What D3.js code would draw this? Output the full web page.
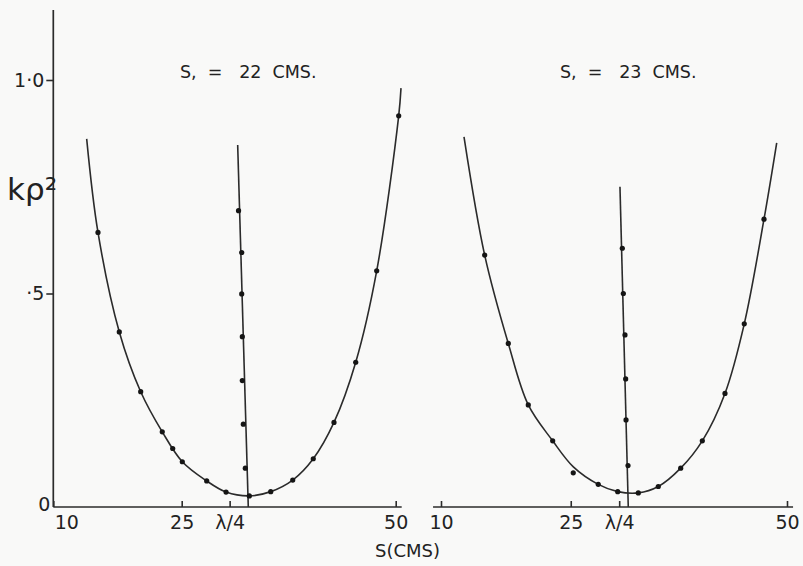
<!DOCTYPE html>
<html>
<head>
<meta charset="utf-8">
<script src="https://cdn.jsdelivr.net/npm/d3@7"></script>
<style>
  html, body { margin: 0; padding: 0; background: #f9f9f8; }
  svg { display: block; }
  text { font-family: "DejaVu Sans", sans-serif; fill: #222; }
</style>
</head>
<body>
<svg id="chart" width="803" height="566"></svg>
<script>
// ---------- DATA ----------
const xTicks = [10, 25, 30.6, 50];
const xTickLabels = ["10", "25", "λ/4", "50"];
const yTicks = [0, 0.5, 1.0];
const yTickLabels = ["0", "·5", "1·0"];

const titleLeft = "S,  =   22  CMS.";
const titleRight = "S,  =   23  CMS.";
const xLabel = "S(CMS)";
const yLabel = "kρ²";

// Left panel (S1 = 22 cms): measured points on the parabola
const leftS = [15.22, 17.71, 20.21, 22.73, 23.95, 25.07, 27.92, 30.18, 32.90, 35.40, 37.97, 40.37, 42.79, 45.33, 47.78, 50.35];
const leftV = [0.643, 0.410, 0.270, 0.176, 0.137, 0.106, 0.061, 0.035, 0.026, 0.036, 0.063, 0.113, 0.198, 0.339, 0.553, 0.916];
// Left panel drawn curve (knots along the hand-drawn curve)
const leftCurveS = [13.90, 15.22, 17.71, 20.21, 22.73, 25.07, 27.92, 30.18, 32.90, 35.40, 37.97, 40.37, 42.79, 45.33, 47.78, 50.35, 50.62];
const leftCurveV = [0.862, 0.643, 0.410, 0.270, 0.176, 0.106, 0.061, 0.035, 0.026, 0.036, 0.063, 0.113, 0.198, 0.339, 0.553, 0.916, 0.981];
// Left panel near-vertical series
const leftVertS = [31.64, 32.01, 32.01, 32.08, 32.08, 32.20, 32.43];
const leftVertV = [0.694, 0.596, 0.499, 0.399, 0.296, 0.194, 0.091];
const leftVertLineS = [31.54, 32.78];
const leftVertLineV = [0.848, 0.0];

// Right panel (S1 = 23 cms)
const rightS = [15.05, 17.78, 20.09, 22.91, 25.29, 28.18, 30.43, 32.81, 35.12, 37.71, 40.21, 42.83, 45.06, 47.34];
const rightV = [0.590, 0.383, 0.239, 0.155, 0.080, 0.053, 0.036, 0.033, 0.048, 0.091, 0.155, 0.266, 0.429, 0.674];
const rightCurveS = [12.66, 15.05, 17.78, 20.09, 22.91, 25.30, 28.18, 30.43, 32.81, 35.12, 37.71, 40.21, 42.83, 45.06, 47.34, 48.81];
const rightCurveV = [0.867, 0.590, 0.383, 0.239, 0.155, 0.094, 0.053, 0.036, 0.033, 0.048, 0.091, 0.155, 0.266, 0.429, 0.674, 0.853];
const rightVertS = [30.96, 31.08, 31.27, 31.35, 31.39, 31.62];
const rightVertV = [0.606, 0.500, 0.403, 0.300, 0.204, 0.097];
const rightVertLineS = [30.69, 31.65];
const rightVertLineV = [0.750, 0.0];

// axis extents (in data units)
const leftAxisS = [10, 50.7];
const rightAxisS = [9.08, 50.7];
const yAxisTop = 1.164;

// ---------- DRAWING ----------
const svg = d3.select("#chart");
const INK = "#2b2b2b";

svg.append("rect").attr("width", 803).attr("height", 566).attr("fill", "#f9f9f8");

const y = d3.scaleLinear().domain([0, 1]).range([507, 80]);
const xL = d3.scaleLinear().domain([10, 50]).range([53.3, 395.7]);
const xR = d3.scaleLinear().domain([10, 50]).range([441, 787]);

const zip = (a, b) => a.map((v, i) => [v, b[i]]);

function panel(x, axisS, curveS, curveV, ptsS, ptsV, vLineS, vLineV, vPtsS, vPtsV, isLeft) {
  const g = svg.append("g");
  // x axis line
  g.append("line")
    .attr("x1", x(axisS[0])).attr("x2", x(axisS[1]))
    .attr("y1", y(0)).attr("y2", y(0))
    .attr("stroke", INK).attr("stroke-width", 1.7);
  // x axis ticks and labels
  const ax = g.append("g").attr("transform", `translate(0,${y(0)})`)
    .call(d3.axisBottom(x).tickValues(xTicks).tickSize(-6).tickPadding(9)
      .tickFormat((d, i) => xTickLabels[i]));
  ax.select(".domain").remove();
  ax.selectAll(".tick line").attr("stroke", INK).attr("stroke-width", 1.6);
  ax.selectAll(".tick text").attr("font-size", 19).attr("fill", "#222")
    .attr("font-family", "DejaVu Sans");
  if (isLeft) {
    ax.selectAll(".tick text").filter((d, i) => i === 0).attr("dx", 13);
  }

  const line = d3.line().x(d => x(d[0])).y(d => y(d[1]));
  // fitted curve
  g.append("path")
    .datum(zip(curveS, curveV))
    .attr("d", line.curve(d3.curveCatmullRom.alpha(0.5)))
    .attr("fill", "none").attr("stroke", INK).attr("stroke-width", 1.6);
  // near-vertical line
  g.append("path")
    .attr("d", d3.line().x(d => x(d[0])).y(d => y(d[1]))(zip(vLineS, vLineV)))
    .attr("fill", "none").attr("stroke", INK).attr("stroke-width", 1.6);
  // points
  g.selectAll("circle.p").data(zip(ptsS, ptsV)).enter().append("circle")
    .attr("class", "p")
    .attr("cx", d => x(d[0])).attr("cy", d => y(d[1])).attr("r", 2.6)
    .attr("fill", "#151515");
  g.selectAll("circle.v").data(zip(vPtsS, vPtsV)).enter().append("circle")
    .attr("class", "v")
    .attr("cx", d => x(d[0])).attr("cy", d => y(d[1])).attr("r", 2.6)
    .attr("fill", "#151515");
}

panel(xL, leftAxisS, leftCurveS, leftCurveV, leftS, leftV,
      leftVertLineS, leftVertLineV, leftVertS, leftVertV, true);
panel(xR, rightAxisS, rightCurveS, rightCurveV, rightS, rightV,
      rightVertLineS, rightVertLineV, rightVertS, rightVertV, false);

// y axis (left panel only)
svg.append("line")
  .attr("x1", xL(10)).attr("x2", xL(10))
  .attr("y1", y(0)).attr("y2", y(yAxisTop))
  .attr("stroke", INK).attr("stroke-width", 1.7);
const ay = svg.append("g").attr("transform", `translate(${xL(10)},0)`)
  .call(d3.axisLeft(y).tickValues(yTicks).tickSize(7).tickPadding(2)
    .tickFormat((d, i) => yTickLabels[i]));
ay.select(".domain").remove();
ay.selectAll(".tick line").attr("stroke", INK).attr("stroke-width", 1.6);
ay.selectAll(".tick text").attr("font-size", 19).attr("fill", "#222")
  .attr("font-family", "DejaVu Sans");
ay.selectAll(".tick").filter(d => d === 0).select("line").remove();
ay.selectAll(".tick").filter(d => d === 0).select("text").attr("dy", "0.2em").attr("x", -3);

// titles
svg.append("text").attr("x", 180).attr("y", 78).attr("font-size", 17.5)
  .style("white-space", "pre").text(titleLeft);
svg.append("text").attr("x", 560).attr("y", 78).attr("font-size", 17.5)
  .style("white-space", "pre").text(titleRight);

// axis labels
svg.append("text").attr("x", 375).attr("y", 557).attr("font-size", 18).text(xLabel);
svg.append("text").attr("x", 7).attr("y", 200).attr("font-size", 31).text(yLabel);
</script>
</body>
</html>
